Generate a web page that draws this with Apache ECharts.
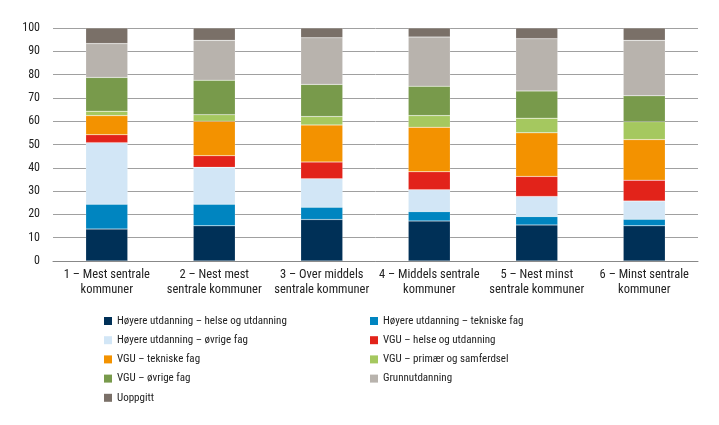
<!DOCTYPE html>
<html>
<head>
<meta charset="utf-8">
<script src="https://cdn.jsdelivr.net/npm/echarts@6/dist/echarts.min.js"></script>
<style>html,body{margin:0;padding:0;background:#fff}#c{width:719px;height:425px}</style>
</head>
<body>
<div id="c"></div>
<script>
const categories = ['1 – Mest sentrale\nkommuner', '2 – Nest mest\nsentrale kommuner', '3 – Over middels\nsentrale kommuner', '4 – Middels sentrale\nkommuner', '5 – Nest minst\nsentrale kommuner', '6 – Minst sentrale\nkommuner'];
const seriesNames = ['Høyere utdanning – helse og utdanning', 'Høyere utdanning – tekniske fag', 'Høyere utdanning – øvrige fag', 'VGU – helse og utdanning', 'VGU – tekniske fag', 'VGU – primær og samferdsel', 'VGU – øvrige fag', 'Grunnutdanning', 'Uoppgitt'];
const hoyHelse   = [13.7, 15.1, 17.8, 17.2, 15.5, 15.1];
const hoyTekn    = [10.7, 9.3, 5.3, 4.0, 3.6, 2.8];
const hoyOvrige  = [26.4, 15.8, 12.2, 9.4, 8.6, 7.8];
const vguHelse   = [3.4, 5.0, 7.2, 7.7, 8.6, 9.0];
const vguTekn    = [8.2, 14.8, 15.9, 19.1, 18.7, 17.4];
const vguPrimaer = [1.9, 2.8, 3.6, 5.0, 6.3, 7.7];
const vguOvrige  = [14.5, 14.8, 13.8, 12.6, 11.7, 11.1];
const grunn      = [14.5, 17.1, 20.0, 21.1, 22.4, 23.8];
const uoppgitt   = [6.7, 5.3, 4.2, 3.9, 4.6, 5.3];
const yTicks = [0, 10, 20, 30, 40, 50, 60, 70, 80, 90, 100];

const values = [hoyHelse, hoyTekn, hoyOvrige, vguHelse, vguTekn, vguPrimaer, vguOvrige, grunn, uoppgitt];
const colors = ['#003057', '#0085c0', '#d2e6f6', '#e2231a', '#f39200', '#a5c85f', '#789a4b', '#b8b3ad', '#7a7068'];
const FONT = '"Liberation Sans Narrow", "Roboto Condensed", "Arial Narrow", sans-serif';

const chart = echarts.init(document.getElementById('c'), null, {renderer: 'canvas'});
const legendText = {fontFamily: FONT, fontSize: 11, color: '#222', lineHeight: 14};
chart.setOption({
  animation: false,
  color: colors,
  grid: {left: 53, right: 21, top: 28, bottom: 164},
  xAxis: {
    type: 'category',
    data: categories,
    axisTick: {show: false},
    axisLine: {show: true, lineStyle: {color: '#888', width: 1}},
    axisLabel: {fontFamily: FONT, fontSize: 12.5, color: '#222', lineHeight: 15, margin: 6, interval: 0}
  },
  yAxis: {
    type: 'value',
    min: 0, max: 100, interval: 10,
    axisLine: {show: false},
    axisTick: {show: false},
    splitLine: {lineStyle: {color: '#a0a0a0', width: 1}},
    axisLabel: {fontFamily: FONT, fontSize: 12, color: '#222', margin: 13,
      formatter: v => yTicks.includes(v) ? String(v) : ''}
  },
  legend: [
    {
      orient: 'vertical', left: 99, top: 309, itemWidth: 8, itemHeight: 8, itemGap: 5.2, itemStyle: {borderWidth: 0},
      icon: 'rect', textStyle: legendText,
      data: [0, 2, 4, 6, 8].map(i => seriesNames[i])
    },
    {
      orient: 'vertical', left: 365, top: 309, itemWidth: 8, itemHeight: 8, itemGap: 5.2, itemStyle: {borderWidth: 0},
      icon: 'rect', textStyle: legendText,
      data: [1, 3, 5, 7].map(i => seriesNames[i])
    }
  ],
  series: seriesNames.map((name, i) => ({
    name: name,
    type: 'bar',
    stack: 'total',
    barWidth: 42,
    data: values[i],
    itemStyle: {color: colors[i], borderColor: 'rgba(255,255,255,0.35)', borderWidth: 0.5}
  }))
});
</script>
</body>
</html>
